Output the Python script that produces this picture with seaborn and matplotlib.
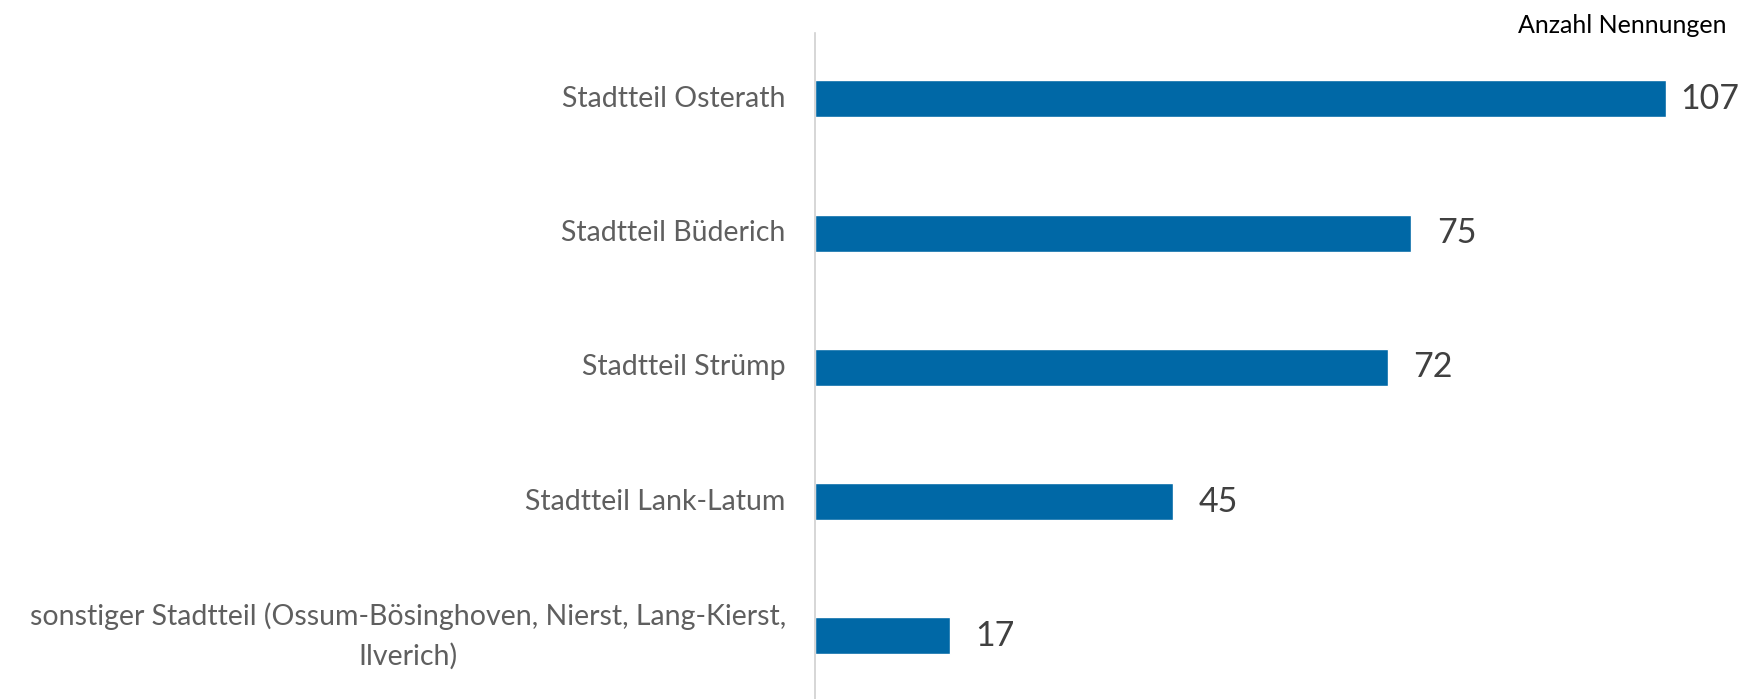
import matplotlib
matplotlib.use("Agg")
import matplotlib.pyplot as plt
import pandas as pd
import seaborn as sns

# data
categories = [
    "Stadtteil Osterath",
    "Stadtteil Büderich",
    "Stadtteil Strümp",
    "Stadtteil Lank-Latum",
    "sonstiger Stadtteil (Ossum-Bösinghoven, Nierst, Lang-Kierst,\nIlverich)",
]
values = [107, 75, 72, 45, 17]
axis_title = "Anzahl Nennungen"

bar_color = "#0068A6"

sns.set_theme(style="white")
plt.rcParams["font.family"] = ["Lato", "DejaVu Sans"]

df = pd.DataFrame({"Stadtteil": categories, "Nennungen": values})

fig = plt.figure(figsize=(17.51, 6.99), dpi=100)
ax = fig.add_axes([815 / 1751, 0, 1 - 815 / 1751, 1 - 33 / 699])

sns.barplot(data=df, x="Nennungen", y="Stadtteil", orient="h",
            color=bar_color, width=0.275, saturation=1, ax=ax)

xmax = 117.7
ax.set_xlim(0, xmax)
ax.set_ylim(4.47, -0.49)

for sp in ["top", "right", "bottom"]:
    ax.spines[sp].set_visible(False)
ax.spines["left"].set_color("#d0d0d0")
ax.spines["left"].set_linewidth(1.2)

ax.set_xticks([])
ax.set_xlabel("")
ax.set_ylabel("")
ax.tick_params(axis="y", length=0, pad=21)
for lbl in ax.get_yticklabels():
    lbl.set_fontsize(20.5)
    lbl.set_color("#5f5f5f")
    lbl.set_multialignment("center")
    lbl.set_linespacing(1.6)
    lbl.set_verticalalignment("center")

# value labels, the last one is pushed left so it stays inside the figure
for i, v in enumerate(values):
    x = min(v + 3.2, xmax - 8.9)
    ax.text(x, i, str(v), va="center", ha="left",
            fontsize=24.5, color="#404040")

fig.text(1726 / 1751, 1 - 14 / 699, axis_title, ha="right", va="top",
         fontsize=18, color="black")

fig.savefig("out.png", dpi=100)
